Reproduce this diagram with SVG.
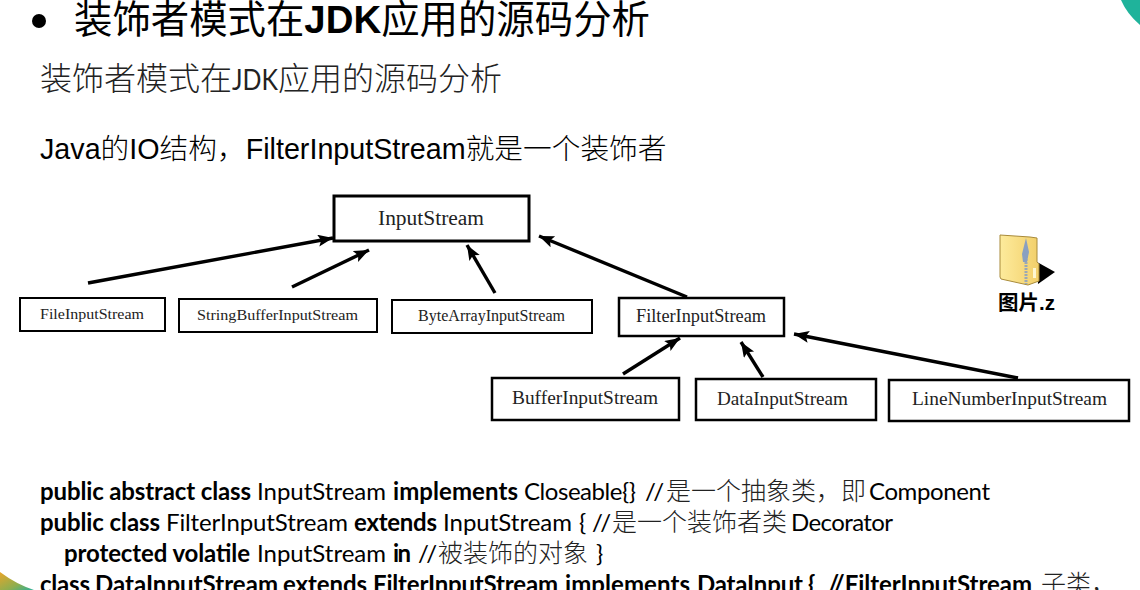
<svg xmlns="http://www.w3.org/2000/svg" width="1140" height="590" viewBox="0 0 1140 590">
<style>
.box{fill:#fff;stroke:#000}
.lbl{font-family:"Liberation Serif","Noto Sans CJK SC",serif;fill:#222;text-anchor:start}
.ar{stroke:#000;stroke-width:3.4;fill:none;marker-end:url(#ah)}
.h{font-family:"Liberation Sans","Noto Sans CJK SC",sans-serif;fill:#000}
.c{font-family:Lato,"Noto Sans CJK SC",sans-serif;font-size:24px;fill:#000}
.c .b{font-weight:700}
.c .z{font-family:"Noto Sans CJK SC",sans-serif;font-size:25px;font-weight:300;fill:#222}
</style>
<defs>
<marker id="ah" markerUnits="userSpaceOnUse" markerWidth="18" markerHeight="14" refX="15" refY="6" orient="auto"><path d="M0 0L15 6L0 12L3 6Z" fill="#000"/></marker>
<linearGradient id="fold" x1="0" x2="1" y1="0" y2="0"><stop offset="0" stop-color="#fdeb9c"/><stop offset="1" stop-color="#f2cf6a"/></linearGradient>
<linearGradient id="corner" x1="0" x2="1" y1="0" y2="1"><stop offset="0" stop-color="#e8a52a"/><stop offset=".6" stop-color="#8fae4e"/><stop offset="1" stop-color="#2bb09a"/></linearGradient>
</defs>
<rect width="1140" height="590" fill="#fff"/>
<path d="M1121 0Q1127 14 1140 25V0Z" fill="#1fb39b"/>
<path d="M0 572Q16 584 34 590H0Z" fill="url(#corner)"/>

<g id="heading">
<circle cx="39" cy="21" r="7" fill="#000"/>
<text class="h" x="74" y="33" font-size="38.4"><tspan>装饰者模式在</tspan><tspan font-weight="700">JDK</tspan><tspan>应用的源码分析</tspan></text>
<text x="40" y="90" font-size="32" font-family="Lato,'Noto Sans CJK SC',sans-serif" fill="#222" font-weight="300">装饰者模式在</text>
<text x="232" y="90" font-size="29" font-family="Lato,sans-serif" fill="#222" textLength="46" lengthAdjust="spacingAndGlyphs">JDK</text>
<text x="278" y="90" font-size="32" font-family="Lato,'Noto Sans CJK SC',sans-serif" fill="#222" font-weight="300">应用的源码分析</text>
<text class="h" x="40" y="159" font-size="28.7" fill="#111">Java<tspan font-weight="300">的</tspan>IO<tspan font-weight="300">结构，</tspan>FilterInputStream<tspan font-weight="300">就是一个装饰者</tspan></text>
</g>

<g id="connectors">
<line class="ar" x1="88" y1="283" x2="333" y2="238"/>
<line class="ar" x1="292" y1="287" x2="369" y2="250"/>
<line class="ar" x1="495" y1="293" x2="467" y2="245"/>
<line class="ar" x1="687" y1="297" x2="539" y2="236"/>
<line class="ar" x1="623" y1="374" x2="680" y2="338"/>
<line class="ar" x1="763" y1="377" x2="741" y2="342"/>
<line class="ar" x1="1018" y1="378" x2="794" y2="334"/>
</g>

<g id="n-inputstream"><rect class="box" x="334" y="196" width="195" height="45" stroke-width="3"/><text class="lbl" x="378" y="225" font-size="20" textLength="106" lengthAdjust="spacingAndGlyphs">InputStream</text></g>
<g id="n-file"><rect class="box" x="20" y="298" width="145" height="33" stroke-width="2"/><text class="lbl" x="40" y="319" font-size="15.5" textLength="104" lengthAdjust="spacingAndGlyphs">FileInputStream</text></g>
<g id="n-stringbuffer"><rect class="box" x="179" y="299" width="198" height="33" stroke-width="2"/><text class="lbl" x="197" y="320" font-size="15.5" textLength="161" lengthAdjust="spacingAndGlyphs">StringBufferInputStream</text></g>
<g id="n-bytearray"><rect class="box" x="392" y="300" width="200" height="33" stroke-width="2"/><text class="lbl" x="418" y="321" font-size="16" textLength="147" lengthAdjust="spacingAndGlyphs">ByteArrayInputStream</text></g>
<g id="n-filter"><rect class="box" x="619" y="298" width="165" height="38" stroke-width="2.5"/><text class="lbl" x="636" y="322" font-size="18" textLength="130" lengthAdjust="spacingAndGlyphs">FilterInputStream</text></g>
<g id="n-buffer"><rect class="box" x="492" y="378" width="187" height="42" stroke-width="2.5"/><text class="lbl" x="512" y="404" font-size="19" textLength="146" lengthAdjust="spacingAndGlyphs">BufferInputStream</text></g>
<g id="n-data"><rect class="box" x="696" y="379" width="180" height="41" stroke-width="2.5"/><text class="lbl" x="717" y="405" font-size="19" textLength="131" lengthAdjust="spacingAndGlyphs">DataInputStream</text></g>
<g id="n-linenumber"><rect class="box" x="889" y="380" width="240" height="41" stroke-width="2.5"/><text class="lbl" x="912" y="405" font-size="19" textLength="195" lengthAdjust="spacingAndGlyphs">LineNumberInputStream</text></g>

<g id="zip-icon">
<path d="M1037 262L1055 272L1038 284Z" fill="#000"/>
<path d="M1000 235L1030 237L1037 238V262L1039 264V281L1028 285L1001 279L1000 277Z" fill="url(#fold)" stroke="#a88a3a" stroke-width="1"/>
<path d="M1026 250V284" stroke="#9aa8b5" stroke-width="3" stroke-dasharray="2 1"/>
<path d="M1026 238L1029 252L1027 262L1023 262L1022 254Z" fill="#8aa0c0"/>
<rect x="1033" y="268" width="3" height="10" fill="#fdf6d0"/>
<text x="998" y="310" font-size="20.5" font-weight="700" font-family="'Liberation Sans','Noto Sans CJK SC',sans-serif" fill="#000">图片.z</text>
</g>

<g id="code">
<text class="c" y="500"><tspan class="b" x="40" textLength="211">public abstract class</tspan><tspan x="257" textLength="129">InputStream</tspan><tspan class="b" x="393" textLength="125">implements</tspan><tspan x="524" textLength="112">Closeable{}</tspan><tspan x="645" textLength="19">//</tspan><tspan class="z" x="666">是一个抽象类，即</tspan><tspan x="869" textLength="121">Component</tspan></text>
<text class="c" y="531"><tspan class="b" x="40" textLength="120">public class</tspan><tspan x="166" textLength="182">FilterInputStream</tspan><tspan class="b" x="354" textLength="83">extends</tspan><tspan x="443" textLength="129">InputStream</tspan><tspan x="579">{</tspan><tspan x="592" textLength="19">//</tspan><tspan class="z" x="612">是一个装饰者类</tspan><tspan x="791" textLength="102">Decorator</tspan></text>
<text class="c" y="562"><tspan class="b" x="64" textLength="186">protected volatile</tspan><tspan x="257" textLength="129">InputStream</tspan><tspan class="b" x="393" textLength="18">in</tspan><tspan x="418" textLength="19">//</tspan><tspan class="z" x="438">被装饰的对象</tspan><tspan x="596">}</tspan></text>
<text class="c" y="593" font-weight="700"><tspan x="40" textLength="50">class</tspan><tspan x="95" textLength="183">DataInputStream</tspan><tspan x="283" textLength="84">extends</tspan><tspan x="373" textLength="185">FilterInputStream</tspan><tspan x="565" textLength="125">implements</tspan><tspan x="697" textLength="106">DataInput</tspan><tspan x="808">{</tspan><tspan x="828" textLength="204">//FilterInputStream</tspan><tspan class="z" x="1041" font-weight="700">子类，</tspan></text>
</g>
</svg>
